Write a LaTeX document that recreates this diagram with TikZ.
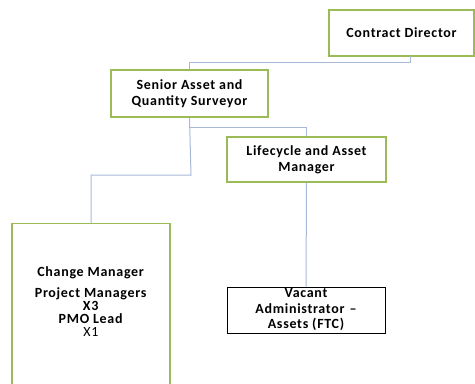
\documentclass[tikz,border=0pt]{standalone}
\usepackage{fontspec}
\setmainfont{Carlito}[LetterSpace=5]
\definecolor{boxgreen}{HTML}{9BBB59}
\definecolor{linkblue}{HTML}{A7B9D6}
\begin{document}
\begin{tikzpicture}[x=1bp,y=-1bp,
  orgbox/.style={draw=boxgreen, line width=1.3bp, fill=white, align=center,
    inner sep=0pt, font=\fontsize{14bp}{16bp}\selectfont\bfseries},
  vacbox/.style={orgbox, draw=black, line width=1bp, font=\fontsize{14bp}{15.5bp}\selectfont\bfseries},
  link/.style={draw=linkblue, line width=1bp}]
\useasboundingbox (0,0) rectangle (475,383);
\begin{scope}
\clip (0,0) rectangle (475,383);
\node[orgbox, minimum width=145bp, minimum height=46bp] (cd) at (401.5,33) {Contract Director};
\node[orgbox, minimum width=157bp, minimum height=47bp] (sr) at (189.5,93.5) {Senior Asset and\\Quantity Surveyor};
\node[orgbox, minimum width=159bp, minimum height=45bp] (lc) at (306.5,159.5) {Lifecycle and Asset\\Manager};
\node[vacbox, minimum width=158bp, minimum height=46bp] (va) at (306,310) {Vacant\\Administrator\hspace{5bp}–\\Assets (FTC)};
\node[orgbox, minimum width=158bp, minimum height=185bp, anchor=north] (cm) at (91,223) {};
\node[align=center, inner sep=0pt, font=\fontsize{14bp}{13bp}\selectfont] (cmt) at (91,302)
  {\textbf{Change Manager}\\[8bp]\textbf{Project Managers}\\\textbf{X3}\\\textbf{PMO Lead}\\X1};
\end{scope}
\coordinate (cdb) at (410,56);
\draw[link] (sr.north) -- ++(0,-7) -| (cdb);
\draw[link] (sr.south) -- ++(0,10) -| (lc.north);
\draw[link] (sr.south) -- (191,175) -| (cm.north);
\draw[link] (lc.south) -- (va.north);
\end{tikzpicture}
\end{document}
